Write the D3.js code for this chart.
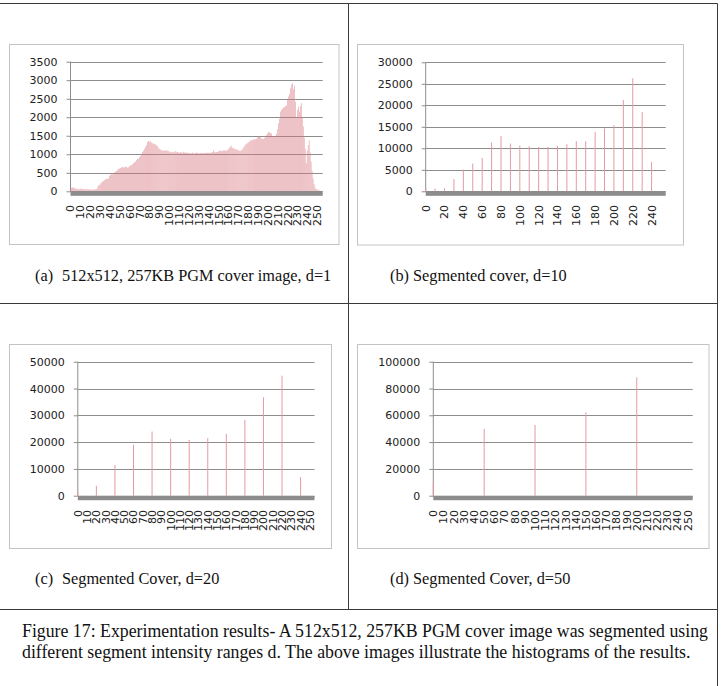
<!DOCTYPE html>
<html>
<head>
<meta charset="utf-8">
<script src="https://cdn.jsdelivr.net/npm/d3@7"></script>
<style>
  body { margin: 0; background: #fff; }
  svg { display: block; }
  .caption { font-family: "Liberation Serif", "Times New Roman", serif; font-size: 16.3px; fill: #111; }
  .figcap { font-family: "Liberation Serif", "Times New Roman", serif; font-size: 17.8px; fill: #111; }
  .axis text, .xlab { font-family: "DejaVu Sans", sans-serif; font-size: 11px; fill: #222; }
</style>
</head>
<body>
<div id="fig"></div>
<script>
// ---- data ----

// (a) d=1 : one bin per grey level 0..255
const levelsA = d3.range(256);
const countsA = [
  85, 95, 100, 105, 90, 75, 70, 65, 60, 55,
  70, 75, 65, 60, 55, 60, 65, 60, 55, 55,
  50, 50, 45, 50, 55, 50, 55, 60, 120, 165,
  170, 210, 240, 260, 280, 300, 320, 340, 330, 350,
  420, 440, 470, 460, 490, 510, 530, 550, 570, 610,
  610, 630, 640, 660, 650, 640, 670, 660, 640, 650,
  680, 700, 710, 730, 760, 790, 800, 840, 880, 880,
  920, 960, 1010, 1060, 1100, 1150, 1200, 1250, 1330, 1360,
  1340, 1350, 1320, 1300, 1290, 1280, 1270, 1250, 1230, 1190,
  1150, 1130, 1120, 1100, 1100, 1100, 1100, 1110, 1090, 1110,
  1080, 1060, 1070, 1050, 1060, 1070, 1050, 1090, 1060, 1060,
  1050, 1040, 1060, 1050, 1040, 1070, 1050, 1040, 1050, 1040,
  1030, 1040, 1020, 1030, 1050, 1030, 1020, 1040, 1040, 1040,
  1030, 1020, 1040, 1030, 1030, 1040, 1030, 1040, 1040, 1040,
  1040, 1030, 1050, 1040, 1060, 1110, 1070, 1050, 1060, 1060,
  1080, 1090, 1100, 1090, 1080, 1110, 1100, 1110, 1090, 1110,
  1140, 1180, 1200, 1230, 1170, 1180, 1150, 1140, 1130, 1140,
  1110, 1100, 1090, 1100, 1120, 1150, 1200, 1230, 1270, 1290,
  1310, 1330, 1350, 1370, 1390, 1380, 1400, 1410, 1400, 1420,
  1470, 1490, 1480, 1460, 1430, 1420, 1410, 1440, 1490, 1520,
  1560, 1600, 1590, 1580, 1560, 1490, 1470, 1480, 1500, 1560,
  1680, 1840, 1960, 2150, 2200, 2230, 2260, 2280, 2300, 2320,
  2480, 2560, 2630, 2780, 2880, 2920, 2760, 2850, 2420, 1990,
  2200, 2280, 2150, 2300, 2380, 2000, 1750, 1450, 1150, 760,
  1100, 1250, 1380, 1050, 800, 550, 350, 200, 100, 60,
  50, 40, 30, 20, 10, 5
];
const labelsA = [0, 10, 20, 30, 40, 50, 60, 70, 80, 90, 100, 110, 120, 130, 140, 150,
                 160, 170, 180, 190, 200, 210, 220, 230, 240, 250];

// (b) d=10
const levelsB = [0, 10, 20, 30, 40, 50, 60, 70, 80, 90, 100, 110, 120, 130, 140, 150,
                 160, 170, 180, 190, 200, 210, 220, 230, 240, 250];
const countsB = [800, 620, 700, 2800, 5050, 6450, 7770, 11350, 12820, 11110, 10650, 10490, 10340,
                 10340, 10570, 10960, 11660, 11660, 13760, 14610, 15390, 21220, 26270, 18420, 6840, 100];
const labelsB = [0, 20, 40, 60, 80, 100, 120, 140, 160, 180, 200, 220, 240];

// (c) d=20 (odd slots are empty)
const levelsC = levelsB;
const countsC = [1420, 0, 3720, 0, 11410, 0, 18980, 0, 23950, 0, 21220, 0, 20840,
                 0, 21460, 0, 23080, 0, 28290, 0, 36720, 0, 44790, 0, 6950, 0];
const labelsC = labelsA;

// (d) d=50
const levelsD = levelsB;
const countsD = [9970, 0, 0, 0, 0, 49870, 0, 0, 0, 0, 52850, 0, 0,
                 0, 0, 62280, 0, 0, 0, 0, 88340, 0, 0, 0, 0, 120];
const labelsD = labelsA;

const captions = [
  ["(a)", "512x512, 257KB PGM cover image, d=1"],
  ["(b)", "Segmented cover, d=10"],
  ["(c)", "Segmented Cover, d=20"],
  ["(d)", "Segmented Cover, d=50"]
];
const figCaption = [
  "Figure 17: Experimentation results- A 512x512, 257KB PGM cover image was segmented using",
  "different segment intensity ranges d. The above images illustrate the histograms of the results."
];

// ---- drawing ----
const W = 721, H = 686;
const svg = d3.select("#fig").append("svg").attr("width", W).attr("height", H);

// table frame
const frame = svg.append("g").attr("stroke", "#3a3a3a").attr("stroke-width", 1);
[[0, 3.5, 717.5, 3.5], [0, 303.5, 717.5, 303.5], [0, 609.5, 717.5, 609.5],
 [348.5, 3.5, 348.5, 609.5], [717.5, 3.5, 717.5, H]].forEach(l => {
  frame.append("line").attr("x1", l[0]).attr("y1", l[1]).attr("x2", l[2]).attr("y2", l[3]);
});

function histogram(s) {
  let g = svg.append("g");

  g.append("rect")
    .attr("x", s.box[0]).attr("y", s.box[1])
    .attr("width", s.box[2]).attr("height", s.box[3])
    .attr("fill", "#fff").attr("stroke", "#c3c3c3");

  // first category sits on the value axis
  let bw = (s.right - s.axisX) / (s.levels.length - 0.5);
  let x = d3.scaleBand().domain(s.levels).range([s.axisX - bw / 2, s.right]);
  let y = d3.scaleLinear().domain([0, s.yMax]).range([s.zero, s.top]);
  let ticks = d3.range(0, s.yMax + 1, s.yStep);

  g.selectAll(".grid").data(ticks).enter().append("line")
    .attr("class", "grid")
    .attr("x1", s.axisX).attr("x2", s.right)
    .attr("y1", d => Math.round(y(d)) + 0.5).attr("y2", d => Math.round(y(d)) + 0.5)
    .attr("stroke", "#8d8d8d");

  let yAxis = d3.axisLeft(y).tickValues(ticks).tickFormat(d3.format("d")).tickSize(4).tickPadding(9);
  let ax = g.append("g").attr("class", "axis")
    .attr("transform", "translate(" + s.axisX + ",0)")
    .call(yAxis);
  ax.select(".domain").remove();
  ax.selectAll(".tick line").attr("stroke", "#8d8d8d");
  ax.append("line").attr("y1", s.top).attr("y2", s.zero).attr("stroke", "#8d8d8d");

  // bars
  let data = s.levels.map((d, i) => ({ level: d, count: s.counts[i] })).filter(d => d.count > 0);
  let bars = g.selectAll(".bar").data(data).enter().append("rect").attr("class", "bar");
  if (s.thin) {
    bars.attr("x", d => x(d.level) + bw / 2 - 0.5).attr("width", 1)
      .attr("fill", "#e39aa2");
  } else {
    bars.attr("x", d => x(d.level)).attr("width", bw * 0.45)
      .attr("fill", "#d87880");
  }
  bars.attr("y", d => y(d.count)).attr("height", d => s.zero - y(d.count));

  // grey floor under the bars
  g.append("rect")
    .attr("x", s.axisX).attr("y", s.zero)
    .attr("width", s.right - s.axisX).attr("height", 4.5)
    .attr("fill", "#8c8c8c");

  // rotated category labels
  g.selectAll(".xlab").data(s.labels).enter().append("text")
    .attr("class", "xlab")
    .attr("text-anchor", "end")
    .attr("dy", "0.36em")
    .attr("transform", d => "translate(" + (x(d) + bw / 2) + "," + s.labelTop + ") rotate(-90)")
    .text(d => d);

  // caption
  let c = g.append("text").attr("class", "caption").attr("y", s.capY);
  c.append("tspan").attr("x", s.capX).text(s.caption[0]);
  c.append("tspan").attr("x", s.capX2).text(s.caption[1]);
}

histogram({ box: [9.5, 44.5, 329.5, 200], axisX: 70.5, right: 322.7, top: 61.7, zero: 191.3,
  labelTop: 205, levels: levelsA, counts: countsA, labels: labelsA, yMax: 3500, yStep: 500,
  thin: false, caption: captions[0], capX: 35, capX2: 62, capY: 281 });

histogram({ box: [357.5, 44.5, 326, 200.5], axisX: 425.7, right: 665.7, top: 62.3, zero: 191.3,
  labelTop: 205, levels: levelsB, counts: countsB, labels: labelsB, yMax: 30000, yStep: 5000,
  thin: true, caption: captions[1], capX: 390, capX2: 413, capY: 281 });

histogram({ box: [9.5, 344.5, 322, 204], axisX: 77.8, right: 314.5, top: 361.7, zero: 495.7,
  labelTop: 510, levels: levelsC, counts: countsC, labels: labelsC, yMax: 50000, yStep: 10000,
  thin: true, caption: captions[2], capX: 35, capX2: 62, capY: 584 });

histogram({ box: [357.5, 344.5, 351.5, 204], axisX: 433.3, right: 692.7, top: 361.7, zero: 495.7,
  labelTop: 510, levels: levelsD, counts: countsD, labels: labelsD, yMax: 100000, yStep: 20000,
  thin: true, caption: captions[3], capX: 390, capX2: 413, capY: 584 });

// figure caption
svg.selectAll(".fig").data(figCaption).enter().append("text")
  .attr("class", "figcap")
  .attr("x", 22).attr("y", (d, i) => 637 + i * 20.5)
  .text(d => d);
</script>
</body>
</html>
